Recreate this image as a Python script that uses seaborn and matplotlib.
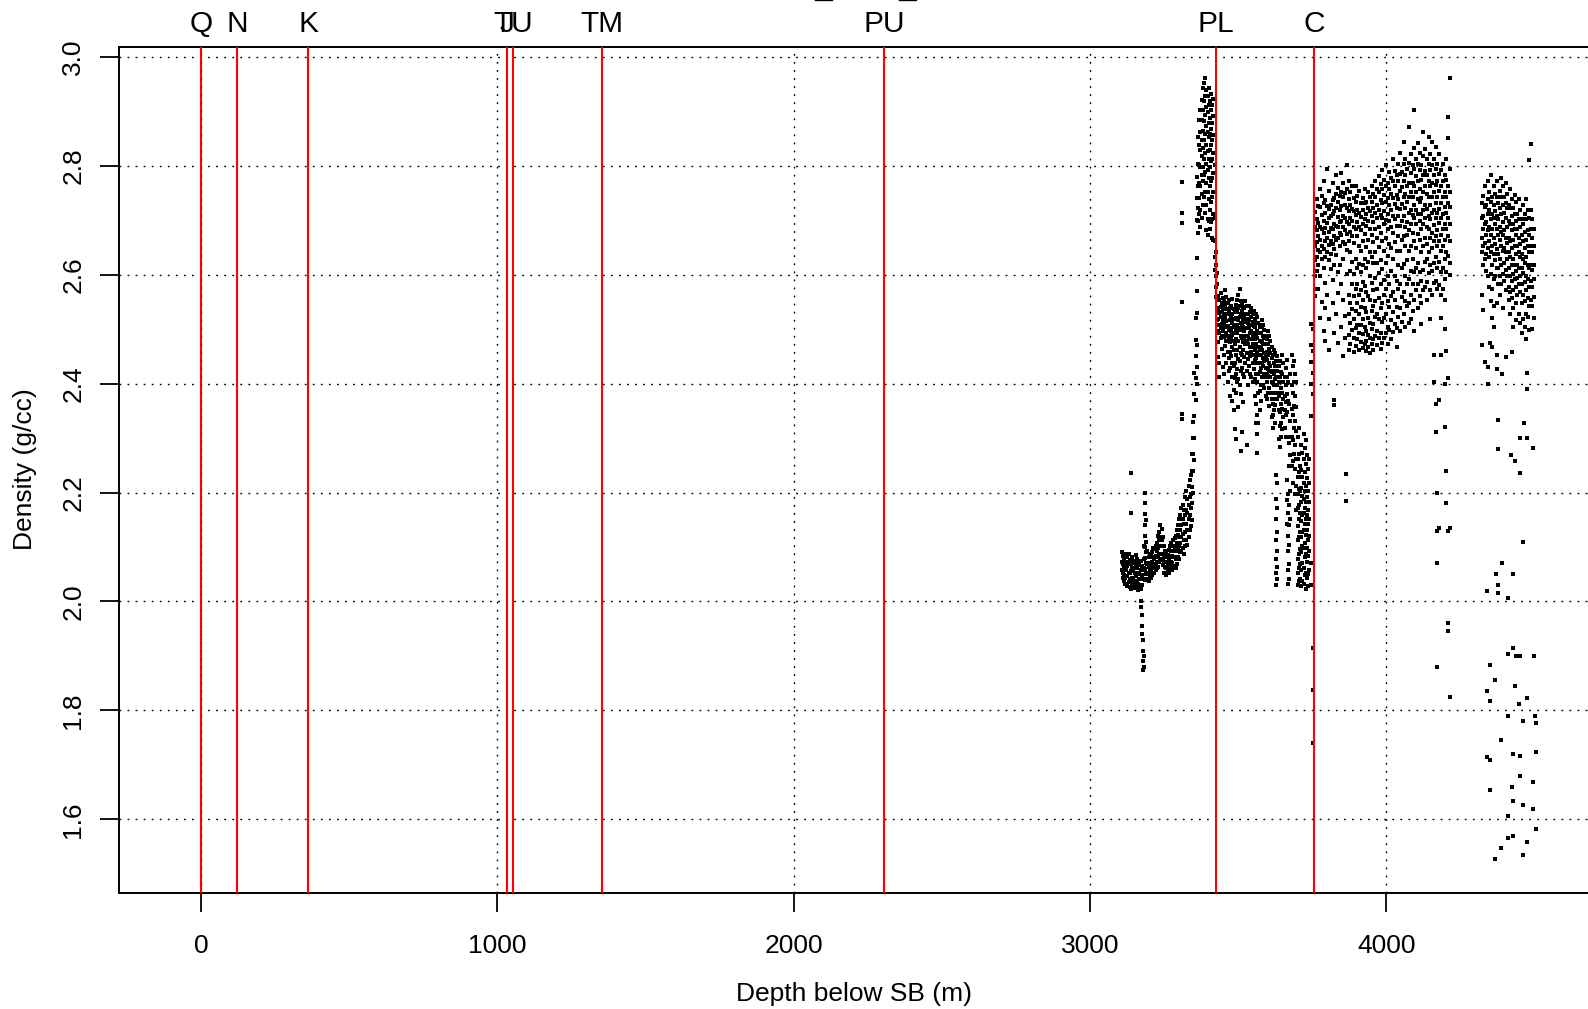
import pandas as pd
import matplotlib.pyplot as plt
import seaborn as sns

# === FORMATION TOPS (depth below SB, m) ===
top_names = ['Q', 'N', 'K', 'J', 'TU', 'TM', 'PU', 'PL', 'C']
top_depths = [0, 121, 361, 1033, 1053, 1351, 2304, 3425, 3755]

# === DENSITY LOG ===
# lower salt-like band + ramp
depth_a = [3106, 3110, 3114, 3118, 3122, 3126, 3130, 3134, 3138, 3142, 3146, 3150,
           3154, 3158, 3162, 3166, 3170, 3174, 3177, 3181, 3185, 3189, 3193, 3197,
           3201, 3205, 3209, 3213, 3217, 3221, 3225, 3229, 3233, 3237, 3241, 3245,
           3249, 3253, 3257, 3261, 3265, 3269, 3273, 3277, 3281, 3285, 3289, 3293,
           3297, 3300, 3304, 3308, 3312, 3316, 3320, 3324, 3328, 3332, 3336, 3340,
           3344, 3348, 3352, 3356, 3360]
rho_a = [
    [2.091, 2.072, 2.058], [2.083, 2.068, 2.053, 2.044], [2.078, 2.063, 2.048, 2.038],
    [2.087, 2.061, 2.043, 2.033], [2.073, 2.058, 2.046, 2.032], [2.081, 2.066, 2.047, 2.028],
    [2.088, 2.071, 2.052, 2.036], [2.076, 2.053, 2.041, 2.027], [2.068, 2.056, 2.038, 2.022],
    [2.082, 2.061, 2.043, 2.031], [2.074, 2.058, 2.042, 2.027], [2.071, 2.053, 2.036, 2.024],
    [2.086, 2.063, 2.047, 2.032], [2.078, 2.061, 2.038, 2.028], [2.067, 2.051, 2.033, 2.021],
    [2.072, 2.052, 2.041, 2.026], [2.075, 2.058, 2.041, 2.022, 2.0, 1.99],
    [2.066, 2.048, 2.031, 1.975, 1.955, 1.94], [2.058, 2.041, 1.93, 1.91, 1.89, 1.875],
    [2.102, 2.078, 2.061, 2.042, 1.9, 1.88], [2.2, 2.18, 2.16, 2.14, 2.12, 2.1, 2.08, 2.06, 2.04],
    [2.15, 2.11, 2.09, 2.07, 2.05, 2.04], [2.092, 2.068, 2.053, 2.041], [2.081, 2.063, 2.052, 2.038],
    [2.088, 2.071, 2.058, 2.046], [2.086, 2.068, 2.056, 2.043], [2.091, 2.073, 2.062, 2.048],
    [2.098, 2.082, 2.063, 2.052], [2.096, 2.078, 2.067, 2.053], [2.102, 2.084, 2.068, 2.057],
    [2.108, 2.092, 2.073, 2.062], [2.121, 2.098, 2.082, 2.063], [2.128, 2.112, 2.088, 2.072],
    [2.14, 2.118, 2.102, 2.078], [2.133, 2.112, 2.088, 2.076], [2.118, 2.101, 2.078, 2.067],
    [2.102, 2.083, 2.072, 2.053], [2.093, 2.081, 2.063, 2.052], [2.091, 2.073, 2.062, 2.048],
    [2.086, 2.071, 2.058, 2.052], [2.094, 2.078, 2.066, 2.053], [2.101, 2.083, 2.072, 2.058],
    [2.108, 2.092, 2.073, 2.062], [2.102, 2.083, 2.071, 2.058], [2.112, 2.093, 2.081, 2.063],
    [2.116, 2.098, 2.082, 2.066], [2.121, 2.102, 2.078, 2.062], [2.132, 2.108, 2.092, 2.068],
    [2.141, 2.122, 2.098, 2.082], [2.152, 2.118, 2.102, 2.078], [2.158, 2.132, 2.108, 2.091],
    [2.172, 2.141, 2.118, 2.092], [2.178, 2.152, 2.123, 2.098], [2.168, 2.143, 2.112, 2.088],
    [2.192, 2.158, 2.128, 2.102], [2.203, 2.168, 2.142, 2.112], [2.188, 2.162, 2.131, 2.103],
    [2.212, 2.178, 2.152, 2.118], [2.223, 2.192, 2.158, 2.132], [2.232, 2.198, 2.171, 2.138],
    [2.27, 2.24, 2.21, 2.18, 2.15], [2.33, 2.3, 2.27, 2.24, 2.2],
    [2.42, 2.38, 2.34, 2.3, 2.26], [2.52, 2.48, 2.45, 2.41, 2.37],
    [2.78, 2.74, 2.7, 2.63, 2.57, 2.53, 2.47, 2.43, 2.4],
]

# high-density spike above PL
depth_b = [3364, 3368, 3372, 3376, 3380, 3384, 3388, 3392, 3396, 3400, 3404, 3408,
           3412, 3416, 3420, 3424, 3428]
rho_b = [
    [2.852, 2.803, 2.762, 2.723, 2.698, 2.676], [2.883, 2.838, 2.802, 2.768, 2.741, 2.712],
    [2.902, 2.861, 2.828, 2.797, 2.763, 2.718, 2.688], [2.921, 2.883, 2.847, 2.818, 2.783, 2.748, 2.703],
    [2.943, 2.902, 2.863, 2.832, 2.798, 2.772, 2.728], [2.952, 2.918, 2.882, 2.847, 2.812, 2.783, 2.742],
    [2.96, 2.928, 2.893, 2.858, 2.823, 2.788, 2.752, 2.713], [2.938, 2.907, 2.872, 2.838, 2.803, 2.768, 2.727, 2.682],
    [2.927, 2.898, 2.862, 2.827, 2.792, 2.752, 2.702, 2.672], [2.943, 2.912, 2.878, 2.852, 2.813, 2.778, 2.738, 2.698],
    [2.918, 2.887, 2.858, 2.828, 2.797, 2.762, 2.718, 2.683], [2.932, 2.902, 2.868, 2.837, 2.808, 2.772, 2.733, 2.697],
    [2.912, 2.878, 2.847, 2.812, 2.778, 2.742, 2.702, 2.668], [2.922, 2.892, 2.857, 2.823, 2.787, 2.752, 2.712, 2.663],
    [2.802, 2.752, 2.703, 2.662, 2.632, 2.608], [2.642, 2.618, 2.598, 2.577, 2.558],
    [2.603, 2.582, 2.561, 2.538, 2.517],
]

# PL interval
depth_c = [3432, 3436, 3440, 3444, 3448, 3452, 3456, 3460, 3464, 3468, 3472, 3476,
           3480, 3484, 3488, 3492, 3496, 3500, 3504, 3508, 3512, 3516, 3520, 3524,
           3528, 3532, 3536, 3540, 3544, 3548, 3552, 3556, 3560, 3564, 3568, 3572,
           3576, 3580, 3584, 3588, 3592, 3596, 3600, 3604, 3608, 3612, 3616, 3620,
           3624, 3628, 3632, 3636, 3640, 3644, 3648, 3652, 3656, 3660, 3664, 3668,
           3672, 3676, 3680, 3684, 3688, 3692, 3696, 3700, 3704, 3708, 3712, 3716,
           3720, 3724, 3728, 3732, 3736, 3740, 3746, 3752]
rho_c = [
    [2.561, 2.537, 2.518, 2.496, 2.477, 2.448], [2.553, 2.529, 2.507, 2.492, 2.438, 2.412],
    [2.566, 2.541, 2.523, 2.502, 2.483], [2.548, 2.531, 2.509, 2.488, 2.463],
    [2.557, 2.538, 2.516, 2.497, 2.431], [2.552, 2.527, 2.512, 2.486, 2.453, 2.418],
    [2.572, 2.544, 2.521, 2.503, 2.469], [2.558, 2.536, 2.514, 2.493, 2.478, 2.437],
    [2.547, 2.528, 2.506, 2.487, 2.458, 2.402], [2.553, 2.532, 2.498, 2.481, 2.447, 2.423],
    [2.538, 2.517, 2.502, 2.476, 2.458, 2.428, 2.378], [2.543, 2.522, 2.497, 2.483, 2.451],
    [2.556, 2.528, 2.511, 2.489, 2.468, 2.437, 2.412, 2.368], [2.537, 2.519, 2.503, 2.478, 2.461, 2.432, 2.388, 2.352],
    [2.532, 2.508, 2.493, 2.472, 2.437, 2.411, 2.317], [2.544, 2.521, 2.498, 2.482, 2.452, 2.418, 2.383, 2.298],
    [2.553, 2.532, 2.507, 2.493, 2.461, 2.427, 2.402], [2.562, 2.538, 2.517, 2.502, 2.478, 2.446, 2.408, 2.357],
    [2.573, 2.543, 2.522, 2.498, 2.467, 2.442, 2.397], [2.551, 2.527, 2.512, 2.488, 2.457, 2.423, 2.381, 2.276],
    [2.548, 2.533, 2.506, 2.483, 2.452, 2.428, 2.312], [2.541, 2.517, 2.503, 2.477, 2.462, 2.418, 2.367],
    [2.538, 2.523, 2.497, 2.484, 2.448, 2.412], [2.552, 2.528, 2.513, 2.488, 2.473, 2.437],
    [2.543, 2.518, 2.502, 2.478, 2.457, 2.423, 2.288], [2.527, 2.512, 2.488, 2.473, 2.446, 2.398],
    [2.542, 2.517, 2.503, 2.482, 2.457, 2.432], [2.532, 2.508, 2.492, 2.468, 2.451, 2.417],
    [2.538, 2.522, 2.497, 2.481, 2.458, 2.412], [2.528, 2.513, 2.487, 2.472, 2.438, 2.403],
    [2.533, 2.506, 2.492, 2.467, 2.452, 2.427], [2.518, 2.503, 2.482, 2.461, 2.443, 2.408, 2.378],
    [2.527, 2.512, 2.488, 2.473, 2.447, 2.418, 2.362, 2.328],
    [2.522, 2.497, 2.483, 2.458, 2.437, 2.402, 2.343, 2.308, 2.272],
    [2.512, 2.493, 2.468, 2.452, 2.418, 2.383, 2.327], [2.503, 2.478, 2.462, 2.437, 2.422, 2.387, 2.352],
    [2.508, 2.492, 2.467, 2.453, 2.428, 2.397, 2.368], [2.517, 2.503, 2.477, 2.462, 2.437, 2.412],
    [2.507, 2.488, 2.472, 2.447, 2.432, 2.398], [2.498, 2.483, 2.457, 2.442, 2.417, 2.392],
    [2.487, 2.472, 2.448, 2.428, 2.412, 2.377], [2.482, 2.458, 2.443, 2.418, 2.402, 2.372],
    [2.497, 2.473, 2.452, 2.427, 2.413, 2.382], [2.488, 2.463, 2.438, 2.423, 2.392, 2.358],
    [2.478, 2.457, 2.432, 2.412, 2.382], [2.468, 2.447, 2.421, 2.403, 2.372, 2.338],
    [2.452, 2.423, 2.401, 2.382, 2.362, 2.343, 2.318], [2.461, 2.438, 2.417, 2.398, 2.372, 2.352],
    [2.457, 2.432, 2.408, 2.383, 2.361, 2.327],
    [2.442, 2.412, 2.383, 2.232, 2.188, 2.152, 2.113, 2.078, 2.052, 2.031],
    [2.451, 2.423, 2.398, 2.372, 2.218, 2.172, 2.128, 2.092, 2.063, 2.042],
    [2.432, 2.403, 2.378, 2.352, 2.298], [2.441, 2.412, 2.383, 2.348, 2.322, 2.283],
    [2.422, 2.392, 2.363, 2.328, 2.302], [2.452, 2.418, 2.382, 2.353, 2.317],
    [2.437, 2.403, 2.372, 2.338], [2.412, 2.378, 2.352, 2.318], [2.428, 2.398, 2.367, 2.342, 2.301],
    [2.443, 2.412, 2.381, 2.347, 2.223, 2.187, 2.142],
    [2.402, 2.368, 2.302, 2.198, 2.162, 2.121, 2.093, 2.058, 2.032],
    [2.363, 2.291, 2.248, 2.178, 2.141, 2.103, 2.068, 2.041],
    [2.418, 2.331, 2.268, 2.203, 2.152], [2.452, 2.398, 2.353, 2.302, 2.248],
    [2.432, 2.383, 2.342, 2.297, 2.258, 2.218], [2.441, 2.402, 2.358, 2.318, 2.271],
    [2.418, 2.377, 2.332, 2.288, 2.243, 2.198], [2.402, 2.357, 2.313, 2.262, 2.212, 2.168],
    [2.302, 2.262, 2.228, 2.198, 2.172, 2.138, 2.112, 2.078, 2.052, 2.031],
    [2.318, 2.271, 2.238, 2.207, 2.178, 2.152, 2.118, 2.088, 2.062, 2.038],
    [2.248, 2.203, 2.162, 2.128, 2.097, 2.068, 2.042],
    [2.288, 2.242, 2.208, 2.182, 2.148, 2.118, 2.091, 2.058, 2.028],
    [2.272, 2.228, 2.193, 2.158, 2.128, 2.102, 2.071, 2.038],
    [2.307, 2.262, 2.218, 2.188, 2.162, 2.132, 2.098, 2.062, 2.033],
    [2.281, 2.238, 2.203, 2.171, 2.142, 2.108, 2.082, 2.048],
    [2.297, 2.252, 2.212, 2.183, 2.151, 2.122, 2.088, 2.053, 2.022],
    [2.268, 2.227, 2.192, 2.158, 2.131, 2.098, 2.072, 2.043],
    [2.243, 2.202, 2.168, 2.142, 2.112, 2.083, 2.051, 2.028],
    [2.262, 2.218, 2.182, 2.152, 2.121, 2.092, 2.058],
    [2.51, 2.47, 2.44, 2.4, 2.34, 2.07, 2.03],
    [2.5, 2.46, 2.42, 2.38, 1.915, 1.838, 1.74],
]

# C interval
depth_d = [3758, 3764, 3770, 3776, 3782, 3788, 3794, 3800, 3806, 3812, 3818, 3824,
           3830, 3836, 3842, 3848, 3854, 3860, 3866, 3872, 3878, 3884, 3890, 3896,
           3902, 3908, 3914, 3920, 3926, 3932, 3938, 3944, 3950, 3956, 3962, 3968,
           3974, 3980, 3986, 3992, 3998, 4004, 4010, 4016, 4022, 4028, 4034, 4040,
           4046, 4052, 4058, 4064, 4070, 4076, 4082, 4088, 4094, 4100, 4106, 4112,
           4118, 4124, 4130, 4136, 4142, 4148, 4154, 4160, 4166, 4172, 4178, 4184,
           4190, 4196, 4202, 4208, 4214]
rho_d = [
    [2.715, 2.688, 2.652, 2.627, 2.598, 2.574, 2.561], [2.738, 2.702, 2.681, 2.659, 2.633, 2.606],
    [2.726, 2.694, 2.671, 2.645, 2.618, 2.573], [2.757, 2.724, 2.687, 2.664, 2.641, 2.597, 2.521],
    [2.744, 2.709, 2.683, 2.652, 2.629, 2.549], [2.772, 2.731, 2.698, 2.676, 2.647, 2.613, 2.497],
    [2.737, 2.713, 2.686, 2.661, 2.632, 2.584, 2.538, 2.479], [2.793, 2.726, 2.694, 2.668, 2.641, 2.563],
    [2.753, 2.721, 2.703, 2.679, 2.655, 2.627, 2.518, 2.462], [2.728, 2.707, 2.685, 2.662, 2.638, 2.611],
    [2.768, 2.737, 2.712, 2.684, 2.656, 2.591, 2.547], [2.741, 2.716, 2.693, 2.671, 2.647, 2.618, 2.493],
    [2.782, 2.748, 2.722, 2.689, 2.664, 2.636, 2.527], [2.759, 2.733, 2.705, 2.687, 2.668, 2.604, 2.566, 2.474],
    [2.745, 2.718, 2.697, 2.676, 2.652, 2.617], [2.786, 2.751, 2.726, 2.699, 2.673, 2.582, 2.503],
    [2.768, 2.742, 2.708, 2.688, 2.659, 2.628, 2.553, 2.451], [2.749, 2.728, 2.703, 2.682, 2.657, 2.524, 2.483],
    [2.801, 2.757, 2.723, 2.697, 2.674, 2.646, 2.602],
    [2.771, 2.738, 2.716, 2.693, 2.661, 2.563, 2.527, 2.489, 2.461],
    [2.752, 2.727, 2.704, 2.678, 2.642, 2.607, 2.548, 2.512, 2.473],
    [2.763, 2.721, 2.698, 2.671, 2.624, 2.583, 2.537, 2.498],
    [2.741, 2.717, 2.688, 2.658, 2.602, 2.561, 2.519, 2.484, 2.458],
    [2.762, 2.734, 2.709, 2.683, 2.628, 2.574, 2.533, 2.502, 2.469],
    [2.744, 2.718, 2.696, 2.671, 2.613, 2.582, 2.547, 2.508, 2.481],
    [2.753, 2.713, 2.687, 2.652, 2.619, 2.563, 2.528, 2.493, 2.462],
    [2.732, 2.706, 2.681, 2.643, 2.604, 2.571, 2.541, 2.507, 2.476],
    [2.741, 2.719, 2.693, 2.662, 2.618, 2.587, 2.553, 2.518, 2.491, 2.466],
    [2.758, 2.731, 2.702, 2.674, 2.628, 2.579, 2.538, 2.504, 2.473],
    [2.734, 2.712, 2.689, 2.651, 2.612, 2.568, 2.532, 2.497, 2.478, 2.459],
    [2.751, 2.723, 2.698, 2.663, 2.624, 2.561, 2.521, 2.489, 2.468],
    [2.742, 2.716, 2.684, 2.642, 2.598, 2.553, 2.512, 2.483, 2.457],
    [2.763, 2.734, 2.707, 2.672, 2.633, 2.584, 2.534, 2.501, 2.472],
    [2.748, 2.722, 2.696, 2.659, 2.621, 2.572, 2.543, 2.509, 2.482, 2.461],
    [2.772, 2.743, 2.714, 2.683, 2.641, 2.593, 2.551, 2.522, 2.488],
    [2.757, 2.728, 2.703, 2.668, 2.622, 2.574, 2.528, 2.497, 2.471],
    [2.781, 2.752, 2.718, 2.688, 2.651, 2.603, 2.557, 2.519, 2.484],
    [2.766, 2.737, 2.709, 2.677, 2.627, 2.583, 2.539, 2.492, 2.463],
    [2.792, 2.758, 2.731, 2.703, 2.662, 2.611, 2.548, 2.513, 2.474],
    [2.774, 2.746, 2.717, 2.692, 2.643, 2.591, 2.562, 2.521, 2.483],
    [2.802, 2.763, 2.734, 2.701, 2.668, 2.622, 2.573, 2.528, 2.492],
    [2.768, 2.741, 2.712, 2.684, 2.634, 2.598, 2.552, 2.503, 2.472],
    [2.789, 2.758, 2.727, 2.698, 2.657, 2.583, 2.541, 2.498],
    [2.777, 2.748, 2.719, 2.687, 2.648, 2.607, 2.561, 2.517, 2.481],
    [2.812, 2.772, 2.741, 2.708, 2.676, 2.628, 2.568, 2.532, 2.494],
    [2.791, 2.762, 2.729, 2.702, 2.659, 2.597, 2.553, 2.509],
    [2.783, 2.747, 2.722, 2.689, 2.643, 2.588, 2.541, 2.502, 2.468],
    [2.803, 2.771, 2.738, 2.707, 2.671, 2.617, 2.574, 2.523],
    [2.824, 2.784, 2.753, 2.721, 2.689, 2.643, 2.582, 2.538, 2.497],
    [2.788, 2.761, 2.729, 2.698, 2.664, 2.612, 2.559, 2.513],
    [2.843, 2.803, 2.772, 2.742, 2.708, 2.671, 2.619, 2.568, 2.527],
    [2.812, 2.782, 2.748, 2.723, 2.688, 2.652, 2.598, 2.551, 2.503],
    [2.794, 2.763, 2.734, 2.697, 2.672, 2.627, 2.583, 2.542],
    [2.871, 2.804, 2.769, 2.742, 2.713, 2.681, 2.643, 2.592, 2.548, 2.512],
    [2.821, 2.786, 2.751, 2.718, 2.692, 2.653, 2.607, 2.563, 2.519],
    [2.802, 2.768, 2.743, 2.709, 2.676, 2.628, 2.582, 2.534],
    [2.903, 2.832, 2.794, 2.763, 2.728, 2.703, 2.662, 2.604, 2.553, 2.497],
    [2.813, 2.781, 2.752, 2.718, 2.693, 2.648, 2.613, 2.572],
    [2.842, 2.803, 2.771, 2.738, 2.712, 2.674, 2.621, 2.583, 2.538],
    [2.823, 2.792, 2.757, 2.733, 2.698, 2.663, 2.604, 2.561],
    [2.801, 2.774, 2.741, 2.712, 2.684, 2.641, 2.588, 2.547, 2.509],
    [2.862, 2.818, 2.783, 2.752, 2.718, 2.693, 2.652, 2.608, 2.571],
    [2.831, 2.791, 2.762, 2.728, 2.703, 2.668, 2.623, 2.577],
    [2.812, 2.783, 2.748, 2.721, 2.687, 2.657, 2.628, 2.586, 2.553],
    [2.852, 2.803, 2.772, 2.743, 2.708, 2.683, 2.641, 2.603],
    [2.821, 2.792, 2.763, 2.727, 2.702, 2.668, 2.617, 2.572, 2.518],
    [2.843, 2.801, 2.768, 2.742, 2.713, 2.677, 2.648, 2.607, 2.562],
    [2.812, 2.783, 2.752, 2.718, 2.691, 2.662, 2.621, 2.584, 2.452, 2.403],
    [2.834, 2.793, 2.764, 2.732, 2.703, 2.671, 2.632, 2.588, 2.362, 2.311],
    [2.803, 2.772, 2.743, 2.714, 2.682, 2.653, 2.612, 2.573, 2.2, 2.13, 2.07, 1.88],
    [2.821, 2.784, 2.753, 2.721, 2.694, 2.662, 2.623, 2.581, 2.37, 2.135],
    [2.792, 2.763, 2.731, 2.703, 2.672, 2.643, 2.604, 2.563, 2.521, 2.452],
    [2.803, 2.771, 2.742, 2.712, 2.684, 2.653, 2.612, 2.574],
    [2.783, 2.752, 2.724, 2.693, 2.663, 2.628, 2.592, 2.553, 2.5, 2.4, 2.32],
    [2.812, 2.774, 2.743, 2.714, 2.683, 2.642, 2.604, 2.46, 2.24, 2.18],
    [2.89, 2.85, 2.763, 2.732, 2.703, 2.671, 2.634, 2.41, 2.13, 1.96, 1.945],
    [2.96, 2.793, 2.752, 2.724, 2.693, 2.662, 2.621, 2.6, 2.135, 1.825],
]

# deepest cluster
depth_e = [4322, 4327, 4332, 4337, 4342, 4347, 4352, 4357, 4362, 4367, 4372, 4377,
           4382, 4387, 4392, 4397, 4402, 4407, 4412, 4417, 4422, 4427, 4432, 4437,
           4442, 4447, 4452, 4457, 4462, 4467, 4472, 4477, 4482, 4487, 4492, 4497]
rho_e = [
    [2.732, 2.703, 2.668, 2.641, 2.562, 2.47], [2.744, 2.708, 2.683, 2.652, 2.617, 2.535],
    [2.763, 2.724, 2.692, 2.658, 2.628, 2.44], [2.728, 2.697, 2.672, 2.638, 2.607],
    [2.771, 2.738, 2.712, 2.681, 2.648, 2.598, 2.43], [2.752, 2.718, 2.687, 2.662, 2.633, 2.577],
    [2.783, 2.734, 2.702, 2.673, 2.641, 2.602, 2.552],
    [2.743, 2.712, 2.683, 2.652, 2.618, 2.573, 2.521, 2.468],
    [2.762, 2.728, 2.703, 2.668, 2.638, 2.592, 2.543, 2.503], [2.748, 2.717, 2.692, 2.657, 2.627, 2.598],
    [2.772, 2.742, 2.708, 2.683, 2.647, 2.613, 2.548, 2.452], [2.731, 2.702, 2.673, 2.638, 2.612, 2.583],
    [2.753, 2.722, 2.688, 2.663, 2.628, 2.597, 2.562], [2.778, 2.743, 2.712, 2.678, 2.652, 2.618, 2.583],
    [2.762, 2.728, 2.697, 2.672, 2.643, 2.602, 2.538], [2.742, 2.713, 2.682, 2.648, 2.622, 2.588],
    [2.768, 2.732, 2.703, 2.668, 2.642, 2.608, 2.572, 2.448], [2.748, 2.722, 2.687, 2.658, 2.628, 2.597],
    [2.728, 2.698, 2.668, 2.642, 2.612, 2.578, 2.553],
    [2.757, 2.723, 2.693, 2.662, 2.632, 2.598, 2.568, 2.527],
    [2.738, 2.707, 2.682, 2.648, 2.617, 2.588, 2.557],
    [2.722, 2.692, 2.663, 2.628, 2.602, 2.572, 2.538, 2.503],
    [2.747, 2.712, 2.683, 2.652, 2.618, 2.592],
    [2.733, 2.698, 2.672, 2.638, 2.607, 2.578, 2.548, 2.517],
    [2.712, 2.683, 2.652, 2.618, 2.593, 2.562], [2.738, 2.702, 2.668, 2.642, 2.612, 2.583, 2.528],
    [2.718, 2.688, 2.657, 2.632, 2.598, 2.568, 2.512], [2.702, 2.672, 2.638, 2.612, 2.582, 2.548, 2.492],
    [2.727, 2.692, 2.662, 2.628, 2.603, 2.562, 2.518], [2.712, 2.678, 2.648, 2.621, 2.587, 2.552, 2.503],
    [2.738, 2.702, 2.663, 2.632, 2.598, 2.572, 2.528, 2.482],
    [2.718, 2.682, 2.653, 2.618, 2.592, 2.557, 2.522],
    [2.81, 2.703, 2.672, 2.642, 2.612, 2.578, 2.542, 2.498],
    [2.84, 2.718, 2.683, 2.652, 2.618, 2.588, 2.553],
    [2.702, 2.668, 2.642, 2.608, 2.578, 2.543, 2.501], [2.683, 2.652, 2.617, 2.592, 2.558, 2.521],
]

# isolated readings
sparse_depth = [3139, 3139, 3309, 3309, 3309, 3309, 3309, 3309, 3824, 3824, 3863, 3863,
                4343, 4349, 4372, 4389, 4422, 4473, 4473, 4377, 4377, 4420, 4434, 4450,
                4464, 4450, 4473, 4495, 4462, 4389, 4369, 4426, 4377, 4340, 4377, 4411,
                4426, 4411, 4437, 4450, 4499, 4349, 4366, 4434, 4338, 4349, 4448, 4473,
                4409, 4462, 4501, 4503, 4386, 4338, 4349, 4426, 4450, 4504, 4450, 4495,
                4349, 4422, 4426, 4462, 4495, 4409, 4504, 4409, 4426, 4475, 4386, 4462, 4366]
sparse_rho = [2.235, 2.162, 2.77, 2.713, 2.695, 2.55, 2.345, 2.335, 2.37, 2.36, 2.234, 2.185,
              2.40, 2.474, 2.427, 2.418, 2.458, 2.42, 2.39, 2.333, 2.28, 2.268, 2.258, 2.235,
              2.327, 2.30, 2.30, 2.282, 2.11, 2.07, 2.05, 2.05, 2.03, 2.02, 2.016, 2.007,
              1.914, 1.903, 1.90, 1.90, 1.90, 1.883, 1.856, 1.845, 1.835, 1.817, 1.812, 1.822,
              1.79, 1.78, 1.79, 1.777, 1.745, 1.714, 1.709, 1.72, 1.716, 1.723, 1.679, 1.668,
              1.654, 1.659, 1.634, 1.626, 1.619, 1.606, 1.582, 1.566, 1.57, 1.559, 1.548, 1.534, 1.528]

x_ticks = [0, 1000, 2000, 3000, 4000]
y_ticks = [1.6, 1.8, 2.0, 2.2, 2.4, 2.6, 2.8, 3.0]


def columns_to_frame(depths, rhos):
    rows = [(d, r) for d, col in zip(depths, rhos) for r in col]
    return pd.DataFrame(rows, columns=['depth', 'density'])


df = pd.concat([
    columns_to_frame(depth_a, rho_a),
    columns_to_frame(depth_b, rho_b),
    columns_to_frame(depth_c, rho_c),
    columns_to_frame(depth_d, rho_d),
    columns_to_frame(depth_e, rho_e),
    pd.DataFrame({'depth': sparse_depth, 'density': sparse_rho}),
], ignore_index=True)

# === PLOT ===
sns.set_theme(style='white')
plt.rcParams['font.family'] = ['Liberation Sans', 'DejaVu Sans']
plt.rcParams['text.color'] = 'black'
plt.rcParams['axes.labelcolor'] = 'black'

fig = plt.figure(figsize=(15.88, 10.09), dpi=100)
ax = fig.add_axes([0.0748, 0.1147, 1 - 0.0748, 0.8391])

grid_style = (0, (1.3, 4.5))
for xv in x_ticks:
    ax.axvline(xv, color='black', lw=1.0, linestyle=grid_style, zorder=1)
for yv in y_ticks:
    ax.axhline(yv, color='black', lw=1.0, linestyle=grid_style, zorder=1)

sns.scatterplot(data=df, x='depth', y='density', ax=ax, marker='s', s=8,
                color='black', linewidth=0, zorder=3)

for name, d in zip(top_names, top_depths):
    ax.axvline(d, color='red', lw=1.5, zorder=4)
    ax.text(d, 1.0263, name, transform=ax.get_xaxis_transform(), ha='center',
            va='center', fontsize=21.5, color='black', clip_on=False)

ax.set_xlim(-278, 4680)
ax.set_ylim(1.4644, 3.0185)

ax.set_xticks(x_ticks)
ax.set_xticklabels([str(v) for v in x_ticks])
ax.set_yticks(y_ticks)
ax.set_yticklabels([f'{v:.1f}' for v in y_ticks], rotation=90, va='center')
ax.tick_params(bottom=True, left=True, direction='out', length=14, width=1.3,
               color='black', labelsize=19, labelcolor='black')
ax.tick_params(axis='x', pad=15.5)
ax.tick_params(axis='y', pad=10)

for side in ['left', 'bottom', 'top']:
    ax.spines[side].set_color('black')
    ax.spines[side].set_linewidth(1.4)
ax.spines['right'].set_visible(False)

ax.set_xlabel('Depth below SB (m)', fontsize=19, va='center')
ax.xaxis.set_label_coords(0.5003, -0.1184)
ax.set_ylabel('Density (g/cc)', fontsize=19, va='center')
ax.yaxis.set_label_coords(-0.0636, 0.501)

# the title sits above the visible frame; only its underscores reach the edge
fig.text(0.5183, 1.002, '_', ha='center', va='baseline', fontsize=23, fontweight='bold')
fig.text(0.5712, 1.002, '_', ha='center', va='baseline', fontsize=23, fontweight='bold')

fig.savefig('out.png', dpi=100)
